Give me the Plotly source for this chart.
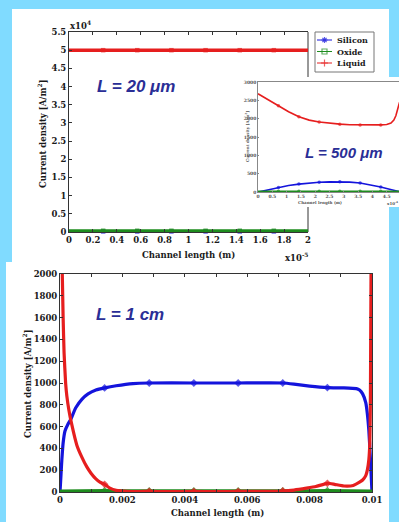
import plotly.graph_objects as go

W, H = 399, 522

# ---------------- data ----------------
SERIES = ["Silicon", "Oxide", "Liquid"]
COLORS = {"Silicon": "#1414dc", "Oxide": "#1e8c1e", "Liquid": "#e61e1e"}
SYMBOLS = {"Silicon": "asterisk-open", "Oxide": "square-open", "Liquid": "cross-thin-open"}

# Panel A : L = 20 um  (x in m)
a_x = [0.0, 0.286e-5, 0.571e-5, 0.857e-5, 1.143e-5, 1.429e-5, 1.714e-5, 2.0e-5]
a_silicon = [150, 150, 150, 150, 150, 150, 150, 150]
a_oxide = [350, 350, 350, 350, 350, 350, 350, 350]
a_liquid = [50000, 50000, 50000, 50000, 50000, 50000, 50000, 50000]
a_marker_x = [0.286e-5, 0.571e-5, 0.857e-5, 1.143e-5, 1.429e-5, 1.714e-5]
a_xtick_vals = [0, 0.2e-5, 0.4e-5, 0.6e-5, 0.8e-5, 1.0e-5, 1.2e-5, 1.4e-5, 1.6e-5, 1.8e-5, 2.0e-5]
a_xtick_text = ["0", "0.2", "0.4", "0.6", "0.8", "1", "1.2", "1.4", "1.6", "1.8", "2"]
a_ytick_vals = [0, 5000, 10000, 15000, 20000, 25000, 30000, 35000, 40000, 45000, 50000, 55000]
a_ytick_text = ["0", "0.5", "1", "1.5", "2", "2.5", "3", "3.5", "4", "4.5", "5", "5.5"]

# Panel B : L = 500 um inset (x in m)
b_x_liquid = [0, 0.35e-4, 0.714e-4, 1.07e-4, 1.43e-4, 1.79e-4, 2.14e-4, 2.5e-4, 2.86e-4, 3.21e-4,
              3.57e-4, 3.93e-4, 4.29e-4, 4.5e-4, 4.65e-4, 4.75e-4, 4.82e-4, 4.88e-4, 4.95e-4]
b_liquid = [2680, 2520, 2350, 2190, 2050, 1960, 1910, 1870, 1850, 1835,
            1830, 1830, 1830, 1840, 1880, 1960, 2080, 2250, 2450]
b_x_silicon = [0, 0.35e-4, 0.714e-4, 1.07e-4, 1.43e-4, 1.79e-4, 2.14e-4, 2.5e-4, 2.86e-4, 3.21e-4,
               3.57e-4, 3.93e-4, 4.29e-4, 4.6e-4, 4.95e-4]
b_silicon = [0, 60, 125, 175, 215, 245, 265, 275, 278, 268, 245, 200, 135, 75, 10]
b_x_oxide = [0, 0.714e-4, 1.43e-4, 2.14e-4, 2.86e-4, 3.57e-4, 4.29e-4, 4.95e-4]
b_oxide = [20, 20, 20, 20, 20, 20, 20, 20]
b_marker_x = [0.714e-4, 1.43e-4, 2.14e-4, 2.86e-4, 3.57e-4, 4.29e-4]
b_xtick_vals = [0, 0.5e-4, 1e-4, 1.5e-4, 2e-4, 2.5e-4, 3e-4, 3.5e-4, 4e-4, 4.5e-4]
b_xtick_text = ["0", "0.5", "1", "1.5", "2", "2.5", "3", "3.5", "4", "4.5"]
b_ytick_vals = [0, 500, 1000, 1500, 2000, 2500, 3000]
b_ytick_text = ["0", "500", "1000", "1500", "2000", "2500", "3000"]

# Panel C : L = 1 cm (x in m)
c_x_liquid = [0.00007, 0.0001, 0.00013, 0.00018, 0.00022, 0.00028, 0.00038, 0.00054, 0.0007, 0.00086,
              0.001, 0.00115, 0.00128, 0.00143, 0.0016, 0.0018, 0.00215, 0.0025, 0.00286, 0.0035,
              0.00429, 0.005, 0.00571, 0.0065, 0.00714, 0.0075, 0.0079, 0.0082, 0.00857, 0.0088,
              0.0091, 0.0094, 0.0096, 0.0097, 0.0098, 0.00985, 0.0099, 0.00993, 0.00995, 0.00996,
              0.00997]
c_liquid = [2050, 1600, 1280, 1000, 880, 760, 615, 430, 320, 230,
            170, 120, 90, 70, 35, 15, 6, 4, 6, 3,
            5, 3, 5, 5, 9, 18, 35, 50, 80, 70,
            55, 60, 90, 110, 150, 200, 300, 450, 900, 1500,
            2050]
c_x_silicon = [0, 0.00003, 0.00006, 0.0001, 0.00016, 0.00025, 0.00035, 0.0005, 0.0007, 0.0009,
               0.00115, 0.00143, 0.0018, 0.00234, 0.00286, 0.00429, 0.00571, 0.00714, 0.0075, 0.008,
               0.00857, 0.0091, 0.0095, 0.0096, 0.0097, 0.0098, 0.00985, 0.0099, 0.00995, 0.01]
c_silicon = [0, 150, 300, 450, 560, 620, 670, 770, 850, 900,
             935, 955, 975, 995, 1000, 1000, 1000, 1000, 990, 972,
             958, 955, 948, 935, 900, 820, 720, 560, 300, 0]
c_x_oxide = [0, 0.00143, 0.00286, 0.00429, 0.00571, 0.00714, 0.00857, 0.01]
c_oxide = [8, 12, 10, 10, 10, 10, 12, 8]
c_marker_x = [0.00143, 0.00286, 0.00429, 0.00571, 0.00714, 0.00857]
c_xtick_vals = [0, 0.002, 0.004, 0.006, 0.008, 0.01]
c_xtick_text = ["0", "0.002", "0.004", "0.006", "0.008", "0.01"]
c_ytick_vals = [0, 200, 400, 600, 800, 1000, 1200, 1400, 1600, 1800, 2000]
c_ytick_text = ["0", "200", "400", "600", "800", "1000", "1200", "1400", "1600", "1800", "2000"]

PANEL_LABELS = ["L = 20 μm", "L = 500 μm", "L = 1 cm"]

# ---------------- helpers ----------------
def px(x):
    return x / W

def py(y):
    return 1 - y / H

def msizes(xs, marks, size, tol):
    return [size if any(abs(x - m) <= tol for m in marks) else 0 for x in xs]

SERIF = "DejaVu Serif"
TICKF = dict(family=SERIF, size=8.5, color="#1a1a1a", weight="bold")
LBLF = dict(family="Liberation Sans", color="#2a2e96", weight="bold", style="italic")

fig = go.Figure()

# Panel A
for name, xs, ys, w in [("Silicon", a_x, a_silicon, 2.5), ("Oxide", a_x, a_oxide, 3), ("Liquid", a_x, a_liquid, 3.5)]:
    fig.add_trace(go.Scatter(
        x=xs, y=ys, mode="lines+markers", xaxis="x", yaxis="y", showlegend=False,
        line=dict(color=COLORS[name], width=w),
        marker=dict(symbol="square", size=msizes(xs, a_marker_x, 4.5, 1e-8),
                    color=COLORS[name], line=dict(width=0)),
        cliponaxis=False))

# Panel B (inset)
for name, xs, ys in [("Silicon", b_x_silicon, b_silicon), ("Oxide", b_x_oxide, b_oxide), ("Liquid", b_x_liquid, b_liquid)]:
    fig.add_trace(go.Scatter(
        x=xs, y=ys, mode="lines+markers", xaxis="x2", yaxis="y2", showlegend=False,
        line=dict(color=COLORS[name], width=1.6),
        marker=dict(symbol="circle", size=msizes(xs, b_marker_x, 3.5, 1e-6),
                    color=COLORS[name], line=dict(width=0))))

# Panel C
for name, xs, ys in [("Silicon", c_x_silicon, c_silicon), ("Oxide", c_x_oxide, c_oxide), ("Liquid", c_x_liquid, c_liquid)]:
    fig.add_trace(go.Scatter(
        x=xs, y=ys, mode="lines+markers", xaxis="x3", yaxis="y3", showlegend=False,
        line=dict(color=COLORS[name], width=3.2, shape="spline", smoothing=0.4),
        marker=dict(symbol="diamond", size=msizes(xs, c_marker_x, 6, 1e-5),
                    color=COLORS[name], line=dict(width=0))))

# Legend glyphs (own hidden axes)
for i, name in enumerate(SERIES):
    yy = [8 + 11.5 * i] * 3
    fig.add_trace(go.Scatter(
        x=[2, 9.5, 17], y=yy, mode="lines+markers", xaxis="x4", yaxis="y4", showlegend=False,
        line=dict(color=COLORS[name], width=1),
        marker=dict(symbol=SYMBOLS[name], size=[0, 5, 0], color=COLORS[name],
                    line=dict(width=1.2, color=COLORS[name]))))

axis_common = dict(showgrid=False, zeroline=False, showline=True, linecolor="#333", linewidth=1,
                   ticks="inside", ticklen=3, tickcolor="#333", tickfont=TICKF, automargin=False)

small_tick = dict(family=SERIF, size=4.5, color="#555", weight="bold")
inset_axis = dict(showgrid=False, zeroline=False, showline=True, linecolor="#888", linewidth=0.6,
                  ticks="inside", ticklen=1.5, tickcolor="#888", tickfont=small_tick, automargin=False,
                  mirror=True)

fig.update_layout(
    width=W, height=H,
    margin=dict(l=0, r=0, t=0, b=0),
    paper_bgcolor="#80dbff",
    plot_bgcolor="rgba(0,0,0,0)",
    showlegend=False,
    xaxis=dict(axis_common, domain=[px(69), px(308)], range=[0, 2e-5], anchor="y",
               tickmode="array", tickvals=a_xtick_vals, ticktext=a_xtick_text, mirror="ticks"),
    yaxis=dict(axis_common, domain=[py(232), py(32)], range=[0, 55000], anchor="x",
               tickmode="array", tickvals=a_ytick_vals, ticktext=a_ytick_text, mirror=False),
    xaxis2=dict(inset_axis, domain=[px(258), 1.0], range=[0, 4.93e-4], anchor="y2",
                tickmode="array", tickvals=b_xtick_vals, ticktext=b_xtick_text),
    yaxis2=dict(inset_axis, domain=[py(192), py(82)], range=[0, 3000], anchor="x2",
                tickmode="array", tickvals=b_ytick_vals, ticktext=b_ytick_text),
    xaxis3=dict(axis_common, domain=[px(60), px(372)], range=[0, 0.01], anchor="y3",
                tickmode="array", tickvals=c_xtick_vals, ticktext=c_xtick_text, mirror="ticks",
                minor=dict(tickmode="linear", tick0=0, dtick=0.001, ticks="inside", ticklen=3, tickcolor="#333")),
    yaxis3=dict(axis_common, domain=[py(492), py(274)], range=[0, 2000], anchor="x3",
                tickmode="array", tickvals=c_ytick_vals, ticktext=c_ytick_text, mirror="ticks"),
    xaxis4=dict(domain=[px(315), px(374)], range=[0, 59], visible=False, anchor="y4", fixedrange=True),
    yaxis4=dict(domain=[py(72), py(32)], range=[40, 0], visible=False, anchor="x4", fixedrange=True),
)

shapes = [
    # white picture panels
    dict(type="rect", xref="paper", yref="paper", x0=px(12), x1=px(389), y0=py(262), y1=py(9),
         fillcolor="white", line=dict(width=0), layer="below"),
    dict(type="rect", xref="paper", yref="paper", x0=px(6), x1=px(389), y0=py(522), y1=py(262),
         fillcolor="white", line=dict(width=0), layer="below"),
    # right frame of panel A
    dict(type="line", xref="paper", yref="paper", x0=px(308), x1=px(308), y0=py(232), y1=py(32),
         line=dict(color="#333", width=1), layer="below"),
    # legend box
    dict(type="rect", xref="paper", yref="paper", x0=px(315), x1=px(374), y0=py(72), y1=py(32),
         fillcolor="white", line=dict(color="#777", width=1), layer="below"),
    # inset white panel
    dict(type="rect", xref="paper", yref="paper", x0=px(243), x1=px(399), y0=py(207), y1=py(77),
         fillcolor="white", line=dict(width=0), layer="below"),
]
fig.update_layout(shapes=shapes)

def ann(text, x, y, font, xanchor="center", yanchor="middle", angle=0):
    return dict(text=text, x=px(x), y=py(y), xref="paper", yref="paper", showarrow=False,
                xanchor=xanchor, yanchor=yanchor, textangle=angle, font=font)

TITLEF = dict(family=SERIF, size=8.5, color="#1a1a1a", weight="bold")
LEGF = dict(family=SERIF, size=8, color="#1a1a1a", weight="bold")
annotations = [
    # panel A
    ann("Channel length (m)", 188, 255, TITLEF),
    ann("Current density [A/m<sup>2</sup>]", 42, 134, TITLEF, angle=-90),
    ann("x10<sup>4</sup>", 68, 33, dict(TICKF), xanchor="left", yanchor="bottom"),
    ann("x10<sup>-5</sup>", 283, 257, dict(TICKF), xanchor="left"),
    ann(PANEL_LABELS[0], 136, 86, dict(LBLF, size=17)),
    # legend texts
    ann(SERIES[0], 335, 40, LEGF, xanchor="left"),
    ann(SERIES[1], 335, 51.5, LEGF, xanchor="left"),
    ann(SERIES[2], 335, 63, LEGF, xanchor="left"),
    # inset
    ann("Channel length (m)", 320, 202.5, dict(small_tick, size=4)),
    ann("Current density [A/m<sup>2</sup>]", 247, 137, dict(small_tick, size=4), angle=-90),
    ann("x10<sup>-4</sup>", 385, 203, dict(small_tick, size=4), xanchor="left"),
    ann(PANEL_LABELS[1], 344, 152, dict(LBLF, size=15)),
    # panel C
    ann("Channel length (m)", 217, 513, TITLEF),
    ann("Current density [A/m<sup>2</sup>]", 27, 384, TITLEF, angle=-90),
    ann(PANEL_LABELS[2], 130, 314, dict(LBLF, size=17)),
]
fig.update_layout(annotations=annotations)

fig.write_html("out.html", config={"displayModeBar": False},
               post_script="document.body.style.margin='0px';document.body.style.overflow='hidden';")
